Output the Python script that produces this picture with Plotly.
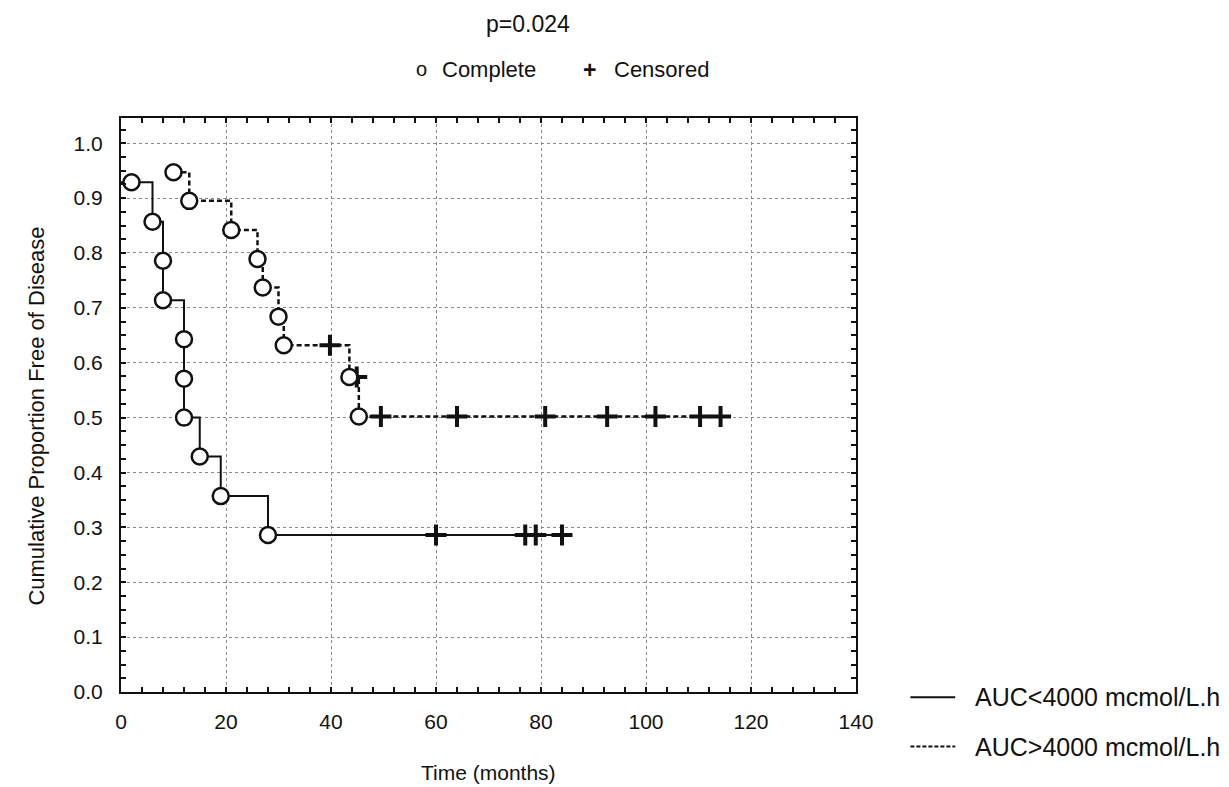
import plotly.graph_objects as go

# ---- data ----
lo_event_t = [2, 6, 8, 8, 12, 12, 12, 15, 19, 28]
lo_event_s = [0.929, 0.857, 0.786, 0.714, 0.643, 0.571, 0.500, 0.429, 0.357, 0.286]
lo_cens_t = [60, 77, 79, 84]
lo_cens_s = [0.286, 0.286, 0.286, 0.286]

hi_event_t = [10, 13, 21, 26, 27, 30, 31, 43.5, 45.3]
hi_event_s = [0.947, 0.895, 0.842, 0.789, 0.737, 0.684, 0.632, 0.574, 0.502]
hi_cens_t = [39.8, 44.9, 49.5, 64, 80.8, 92.6, 101.8, 110.3, 114.2]
hi_cens_s = [0.632, 0.574, 0.502, 0.502, 0.502, 0.502, 0.502, 0.502, 0.502]

x_ticks = [0, 20, 40, 60, 80, 100, 120, 140]
y_ticks = [0.0, 0.1, 0.2, 0.3, 0.4, 0.5, 0.6, 0.7, 0.8, 0.9, 1.0]

series_names = ["AUC<4000 mcmol/L.h", "AUC>4000 mcmol/L.h"]
p_text = "p=0.024"

FONT = "Liberation Sans, Arial, sans-serif"
INK = "#111111"

fig = go.Figure()

# step lines
lo_x = [0] + lo_event_t + [lo_cens_t[-1]]
lo_y = [lo_event_s[0]] + lo_event_s + [lo_event_s[-1]]
fig.add_trace(go.Scatter(x=lo_x, y=lo_y, mode="lines", line_shape="hv",
                         line=dict(color=INK, width=2), showlegend=False, hoverinfo="skip"))
hi_x = hi_event_t + [hi_cens_t[-1]]
hi_y = hi_event_s + [hi_event_s[-1]]
fig.add_trace(go.Scatter(x=hi_x, y=hi_y, mode="lines", line_shape="hv",
                         line=dict(color=INK, width=2.5, dash="5px,3px"), showlegend=False, hoverinfo="skip"))

# censored marks
for t, s in ((lo_cens_t, lo_cens_s), (hi_cens_t, hi_cens_s)):
    fig.add_trace(go.Scatter(x=t, y=s, mode="markers",
                             marker=dict(symbol="cross-thin", size=15, line=dict(color=INK, width=4)),
                             showlegend=False))
# complete (event) marks
for t, s in ((lo_event_t, lo_event_s), (hi_event_t, hi_event_s)):
    fig.add_trace(go.Scatter(x=t, y=s, mode="markers",
                             marker=dict(symbol="circle", size=16, color="white", line=dict(color=INK, width=2.5)),
                             showlegend=False))

axis_common = dict(showline=True, linecolor=INK, linewidth=2, mirror="allticks",
                   ticks="inside", ticklen=5, tickwidth=2, tickcolor=INK,
                   showgrid=True, gridcolor="#8a8a8a", gridwidth=1, griddash="dot",
                   zeroline=False, tickfont=dict(family=FONT, size=21, color=INK))

fig.update_xaxes(range=[0, 140], tickvals=x_ticks, ticklabelstandoff=10,
                 minor=dict(dtick=4, tick0=0, ticks="inside", ticklen=5, tickwidth=2, tickcolor=INK, showgrid=False),
                 **axis_common)
fig.update_yaxes(range=[0, 1.046], tickvals=y_ticks, tickformat=".1f", ticklabelstandoff=12,
                 minor=dict(dtick=0.025, tick0=0, ticks="inside", ticklen=5, tickwidth=2, tickcolor=INK, showgrid=False),
                 **axis_common)

annotations = [
    dict(text="Time (months)", x=0.5, y=-0.14, xref="paper", yref="paper", showarrow=False,
         font=dict(family=FONT, size=21, color=INK), xanchor="center", yanchor="middle"),
    dict(text="Cumulative Proportion Free of Disease", x=-0.1155, y=0.48, xref="paper", yref="paper",
         showarrow=False, textangle=-90, font=dict(family=FONT, size=22, color=INK),
         xanchor="center", yanchor="middle"),
    dict(text=p_text, x=0.554, y=1.163, xref="paper", yref="paper", showarrow=False,
         font=dict(family=FONT, size=23, color=INK), xanchor="center", yanchor="middle"),
    dict(text="o", x=0.409, y=1.086, xref="paper", yref="paper", showarrow=False,
         font=dict(family=FONT, size=20, color=INK), xanchor="center", yanchor="middle"),
    dict(text="Complete", x=0.434, y=1.084, xref="paper", yref="paper", showarrow=False,
         font=dict(family=FONT, size=22, color=INK), xanchor="left", yanchor="middle"),
    dict(text="<b>+</b>", x=0.638, y=1.084, xref="paper", yref="paper", showarrow=False,
         font=dict(family=FONT, size=23, color=INK), xanchor="center", yanchor="middle"),
    dict(text="Censored", x=0.668, y=1.084, xref="paper", yref="paper", showarrow=False,
         font=dict(family=FONT, size=22, color=INK), xanchor="left", yanchor="middle"),
]
legend_y = [-0.009, -0.095]
dashes = ["solid", "4px,2px"]
shapes = []
for name, ly, d in zip(series_names, legend_y, dashes):
    shapes.append(dict(type="line", xref="paper", yref="paper", x0=1.074, x1=1.135, y0=ly, y1=ly,
                       line=dict(color=INK, width=2, dash=d)))
    annotations.append(dict(text=name, x=1.159, y=ly, xref="paper", yref="paper", showarrow=False,
                            font=dict(family=FONT, size=25, color=INK), xanchor="left", yanchor="middle"))

# the page body adds an 8px margin, so the figure is 8px smaller and the margins 8px less
fig.update_layout(width=1221, height=779, margin=dict(l=113, r=373, t=110, b=95),
                  paper_bgcolor="white", plot_bgcolor="white",
                  annotations=annotations, shapes=shapes, showlegend=False)

fig.write_html("out.html")
